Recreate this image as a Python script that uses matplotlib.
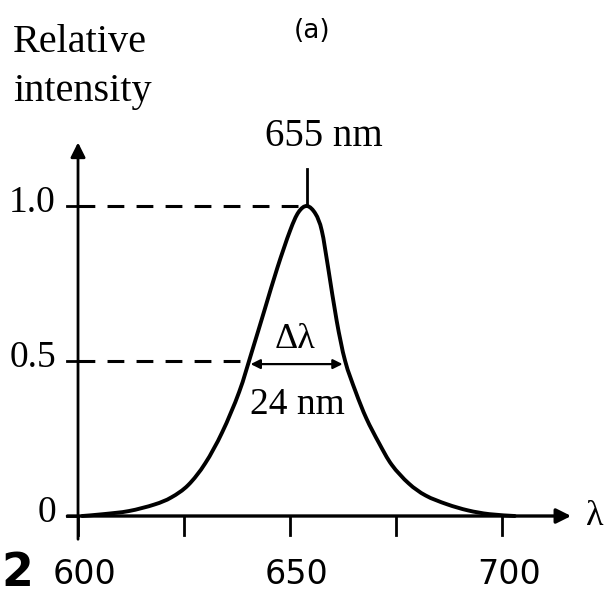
import numpy as np
import matplotlib
matplotlib.use("Agg")
import matplotlib.pyplot as plt
from matplotlib.path import Path
from matplotlib.patches import PathPatch

# ---- data ----
wavelength = [601, 606, 612, 618, 622, 626, 630, 634, 638, 641, 644, 647, 650, 652,
              654, 656, 657.5, 659, 661, 663, 665.5, 668, 671, 674, 678, 682, 687,
              692, 697, 703]
intensity = [0.0, 0.006, 0.016, 0.037, 0.060, 0.100, 0.170, 0.270, 0.400, 0.530,
             0.665, 0.800, 0.920, 0.980, 1.0, 0.975, 0.92, 0.80, 0.63, 0.50, 0.40,
             0.315, 0.235, 0.165, 0.105, 0.066, 0.038, 0.018, 0.006, 0.0]
x_ticks = [600, 625, 650, 675, 700]
x_tick_labels = {600: "600", 650: "650", 700: "700"}
y_ticks = [0, 0.5, 1.0]
y_tick_labels = ["0", "0.5", "1.0"]
peak_label = "655 nm"
width_label = "24 nm"

fig = plt.figure(figsize=(6.11, 5.98), dpi=100)
ax = fig.add_axes([0, 0, 1, 1])
ax.set_xlim(581.6, 725.7)
ax.set_ylim(-0.2645, 1.6645)
ax.axis("off")

k = "black"
serif = ["Liberation Serif", "DejaVu Serif"]


def smooth_path(xs, ys, tension=0.5):
    """Catmull-Rom through the read points, drawn as cubic Bezier segments."""
    pts = np.column_stack([xs, ys]).astype(float)
    n = len(pts)
    verts = [pts[0]]
    codes = [Path.MOVETO]
    for i in range(n - 1):
        p0 = pts[i - 1] if i > 0 else pts[i]
        p1 = pts[i]
        p2 = pts[i + 1]
        p3 = pts[i + 2] if i + 2 < n else pts[i + 1]
        c1 = p1 + (p2 - p0) * tension / 3.0
        c2 = p2 - (p3 - p1) * tension / 3.0
        verts += [c1, c2, p2]
        codes += [Path.CURVE4] * 3
    return Path(verts, codes)


# curve
ax.add_patch(PathPatch(smooth_path(wavelength, intensity, tension=0.5),
                       facecolor="none", edgecolor=k, lw=2.8, capstyle="round",
                       joinstyle="round", zorder=3))

# axes with arrows
ax.annotate("", xy=(600, 1.205), xytext=(600, -0.075),
            arrowprops=dict(arrowstyle="-|>", mutation_scale=22, lw=2.0, color=k,
                            shrinkA=0, shrinkB=0))
ax.annotate("", xy=(716.3, 0), xytext=(597.5, 0),
            arrowprops=dict(arrowstyle="-|>", mutation_scale=22, lw=2.4, color=k,
                            shrinkA=0, shrinkB=0))

# x ticks
for t in x_ticks:
    ax.plot([t, t], [0, -0.06], color=k, lw=2.0)
    if t in x_tick_labels:
        ax.text(t + 1.6, -0.19, x_tick_labels[t], ha="center", va="center",
                fontsize=24, family=["DejaVu Sans"], color=k)

# y ticks
for v, lab in zip(y_ticks, y_tick_labels):
    ax.plot([597.3, 600], [v, v], color=k, lw=2.0)
    ax.text(594.8, v + 0.01, lab, ha="right", va="center", fontsize=27,
            family=serif, color=k)

# dashed guide lines
ipk = int(np.argmax(intensity))
peak_wl = wavelength[ipk]
peak_val = intensity[ipk]
ax.plot([600, peak_wl - 1.2], [peak_val, peak_val], color=k, lw=2.2,
        dashes=(5.5, 4), zorder=2)
half = peak_val / 2
wl_arr = np.array(wavelength)
int_arr = np.array(intensity)
left_wl = np.interp(half, int_arr[:ipk + 1], wl_arr[:ipk + 1])
right_wl = np.interp(half, int_arr[ipk:][::-1], wl_arr[ipk:][::-1])
ax.plot([600, left_wl], [half, half], color=k, lw=2.2, dashes=(5.5, 4), zorder=2)

# peak marker
ax.plot([peak_wl, peak_wl], [peak_val, peak_val + 0.12], color=k, lw=2.0)
ax.text(peak_wl + 4, peak_val + 0.225, peak_label, ha="center", va="center",
        fontsize=28, family=serif, color=k)

# FWHM arrow
ax.annotate("", xy=(left_wl + 0.4, half - 0.01), xytext=(right_wl - 0.6, half - 0.01),
            arrowprops=dict(arrowstyle="<|-|>", mutation_scale=14, lw=1.6, color=k,
                            shrinkA=0, shrinkB=0))
ax.text((left_wl + right_wl) / 2 - 0.5, half + 0.07, "Δλ", ha="center", va="center",
        fontsize=26, family=serif, color=k)
ax.text((left_wl + right_wl) / 2 + 0.2, half - 0.14, width_label, ha="center",
        va="center", fontsize=27, family=serif, color=k)

# axis titles and labels
fig.text(13 / 611, 1 - 42 / 598, "Relative", ha="left", va="center", fontsize=29,
         family=serif, color=k)
fig.text(13 / 611, 1 - 92 / 598, "intensity", ha="left", va="center", fontsize=29,
         family=serif, color=k)
fig.text(312 / 611, 1 - 31 / 598, "(a)", ha="center", va="center", fontsize=19,
         family=["DejaVu Sans"], color=k)
ax.text(719.8, 0.0, "λ", ha="left", va="center", fontsize=26, family=serif, color=k)
fig.text(1 / 611, 1 - 574 / 598, "2", ha="left", va="center", fontsize=33,
         family=["DejaVu Sans"], fontweight="bold", color=k)

fig.savefig("out.png", dpi=100)
